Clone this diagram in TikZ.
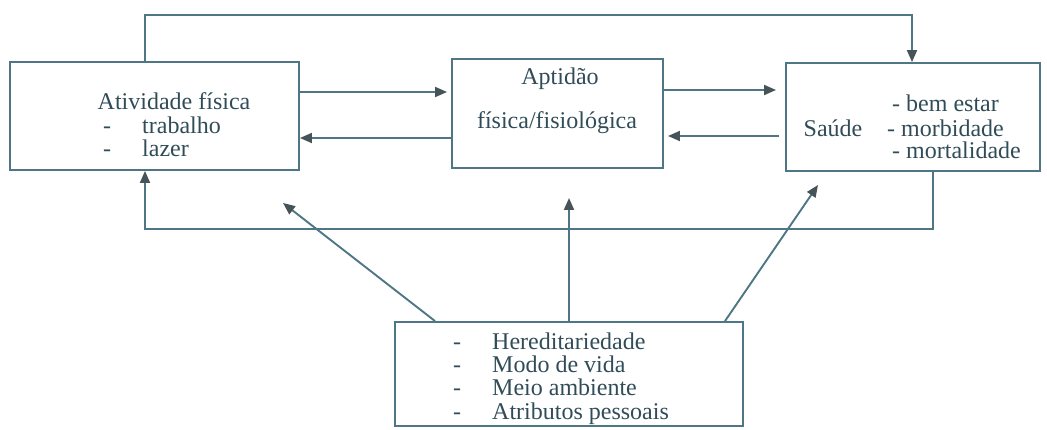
\documentclass[tikz,border=0pt]{standalone}
\usepackage{fontspec}
\setmainfont{Liberation Serif}
\usetikzlibrary{arrows.meta}
\definecolor{linec}{RGB}{78,118,132}
\definecolor{tipc}{RGB}{70,84,90}
\definecolor{txtc}{RGB}{48,76,88}
\begin{document}
\begin{tikzpicture}[x=1pt,y=-1pt,
  box/.style={draw=linec,line width=1.9pt,inner sep=0pt},
  txt/.style={text=txtc,font=\fontsize{24}{24}\selectfont,inner sep=0pt,anchor=base west},
  txtc/.style={txt,anchor=base},
  arr/.style={draw=linec,line width=1.9pt,-{Triangle[length=12pt,width=10pt,fill=tipc,color=tipc]}}]
\useasboundingbox (0,0) rectangle (1047,430);
% boxes
\node[box,minimum width=289pt,minimum height=108pt] (af) at (154.5,116) {};
\node[box,minimum width=211pt,minimum height=109pt] (ap) at (557.5,113.5) {};
\node[box,minimum width=254pt,minimum height=108pt] (sa) at (913,117) {};
\node[box,minimum width=348pt,minimum height=104pt] (fa) at (569,374) {};
% texts
\node[txtc] (af1) at (174,110) {Atividade física};
\node[txtc] (afd1) at (107,134) {-};
\node[txt] (af2) at (142,134) {trabalho};
\node[txtc] (afd2) at (107,157) {-};
\node[txt] (af3) at (142,157) {lazer};
\node[txtc] (ap1) at (560,85) {Aptidão};
\node[txtc] (ap2) at (557,129) {física/fisiológica};
\node[txtc] (sa0) at (833,137) {Saúde};
\node[txt] (sa1) at (892,112) {- bem estar};
\node[txt] (sa2) at (887,137) {- morbidade};
\node[txt] (sa3) at (892,159) {- mortalidade};
\node[txtc] (fd1) at (457,349) {-};
\node[txt] (f1) at (492,349) {Hereditariedade};
\node[txtc] (fd2) at (457,372) {-};
\node[txt] (f2) at (492,372) {Modo de vida};
\node[txtc] (fd3) at (457,395) {-};
\node[txt] (f3) at (492,395) {Meio ambiente};
\node[txtc] (fd4) at (457,419) {-};
\node[txt] (f4) at (492,419) {Atributos pessoais};
% coordinates
\coordinate (t1) at (145,15);
\coordinate (t2) at (912,15);
\coordinate (b1) at (933,229);
\coordinate (b2) at (145,229);
\coordinate (dL) at (283,203);
\coordinate (dM) at (569,198);
\coordinate (dR) at (818,185);
\coordinate (sL) at (435,0);
\coordinate (sR) at (725,0);
% connectors
\draw[arr] (af.north -| t1) -- (t1) -- (t2) -- (sa.north -| t2);
\draw[arr,shorten >=4pt] (af.east |- 0,92) -- (ap.west |- 0,92);
\draw[arr] (ap.west |- 0,138) -- (af.east |- 0,138);
\draw[arr,shorten >=9pt] (ap.east |- 0,90) -- (sa.west |- 0,90);
\draw[arr,shorten <=6pt,shorten >=4pt] (sa.west |- 0,136) -- (ap.east |- 0,136);
\draw[arr] (sa.south -| b1) -- (b1) -- (b2) -- (af.south -| b2);
\draw[arr] (fa.north -| sL) -- (dL);
\draw[arr] (fa.north -| dM) -- (dM);
\draw[arr] (fa.north -| sR) -- (dR);
\end{tikzpicture}
\end{document}
